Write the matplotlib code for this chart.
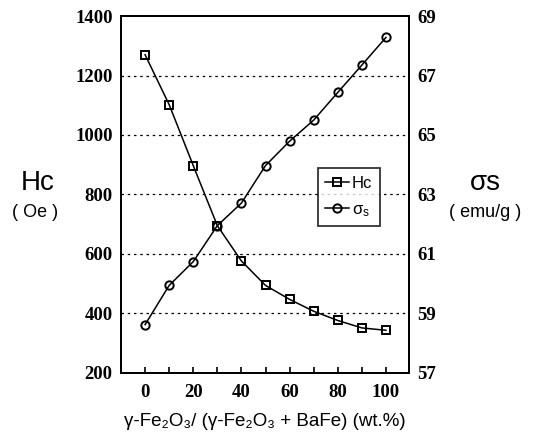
"Hc and sigma_s versus gamma-Fe2O3 fraction, twin y axes."

import matplotlib
matplotlib.use("Agg")
from matplotlib import pyplot as plt

# data
fraction = [0, 10, 20, 30, 40, 50, 60, 70, 80, 90, 100]
hc = [1270, 1102, 897, 695, 576, 494, 447, 407, 376, 351, 343]
sigma_s = [58.62, 59.94, 60.74, 61.95, 62.71, 63.97, 64.79, 65.50, 66.43, 67.35, 68.28]

hc_ticks = [200, 400, 600, 800, 1000, 1200, 1400]
sigma_ticks = [57, 59, 61, 63, 65, 67, 69]
x_ticks = [0, 20, 40, 60, 80, 100]

SANS = ["Liberation Sans", "DejaVu Sans"]
SERIF = ["Liberation Serif", "DejaVu Serif"]

fig = plt.figure(figsize=(5.33, 4.34), dpi=100)
ax = fig.add_axes([0.227, 0.141, 0.540, 0.822])
ax2 = ax.twinx()

# dotted grid lines (left axis levels)
for y in hc_ticks[1:-1]:
    ax.axhline(y, color="black", lw=0.9, ls=(0, (2, 3)), zorder=1)

l1, = ax.plot(fraction, hc, color="black", lw=1.1, marker="s", ms=5.5,
              mfc="none", mec="black", mew=1.4, label="Hc", zorder=3)
l2, = ax2.plot(fraction, sigma_s, color="black", lw=1.1, marker="o", ms=6,
               mfc="none", mec="black", mew=1.4,
               label=r"$\mathregular{\sigma_s}$", zorder=3)

ax.set_xlim(-10, 109.5)
ax.set_ylim(200, 1400)
ax2.set_ylim(57, 69)

ax.set_xticks(x_ticks)
ax.set_xticks(fraction, minor=True)
ax.set_yticks(hc_ticks)
ax2.set_yticks(sigma_ticks)

for a in (ax, ax2):
    for s in a.spines.values():
        s.set_linewidth(1.4)
ax.tick_params(axis="x", which="both", direction="in", length=4, width=1.2, pad=8)
ax.tick_params(axis="y", direction="in", length=0, pad=6)
ax2.tick_params(axis="y", direction="in", length=0, pad=6)

for lab in ax.get_xticklabels() + ax.get_yticklabels() + ax2.get_yticklabels():
    lab.set_fontfamily(SERIF)
    lab.set_fontsize(13.5)
    lab.set_fontweight("bold")

ax.set_xlabel("γ-Fe₂O₃/ (γ-Fe₂O₃ + BaFe) (wt.%)", family=SANS, fontsize=13.5,
              labelpad=9)

fig.text(0.071, 0.578, "Hc", family=SANS, fontsize=20, ha="center", va="center")
fig.text(0.066, 0.510, "( Oe )", family=SANS, fontsize=13, ha="center", va="center")
fig.text(0.910, 0.578, "σs", family=SANS, fontsize=20, ha="center", va="center")
fig.text(0.910, 0.510, "( emu/g )", family=SANS, fontsize=13, ha="center", va="center")

leg = ax.legend(handles=[l1, l2], loc="upper left", bbox_to_anchor=(0.684, 0.574),
                borderaxespad=0, frameon=True, fancybox=False, edgecolor="black",
                handlelength=1.4, handletextpad=0.2, borderpad=0.45,
                labelspacing=0.7, prop={"family": SANS, "size": 12})
leg.get_frame().set_linewidth(1.3)

fig.savefig("out.png", dpi=100)
